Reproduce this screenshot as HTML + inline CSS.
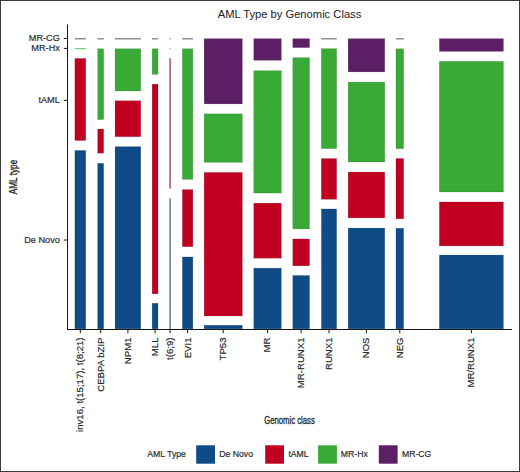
<!DOCTYPE html>
<html><head><meta charset="utf-8"><style>
html,body{margin:0;padding:0;background:#fff;}
svg{display:block;}
text{font-family:"Liberation Sans",sans-serif;}
</style></head><body>
<svg width="520" height="472" viewBox="0 0 520 472">
<rect x="0" y="0" width="520" height="472" fill="#fff"/>
<text x="289.5" y="17.6" text-anchor="middle" font-size="11.2" fill="#222">AML Type by Genomic Class</text>
<rect x="74.70" y="38.18" width="11.20" height="1.25" fill="#7e7a84"/>
<rect x="74.70" y="47.98" width="11.20" height="1.25" fill="#7fcf8a"/>
<rect x="74.85" y="58.45" width="10.90" height="82.05" fill="#c10021" stroke="#000" stroke-opacity="0.22" stroke-width="0.5"/>
<rect x="74.85" y="150.45" width="10.90" height="178.40" fill="#0f4b87" stroke="#000" stroke-opacity="0.22" stroke-width="0.5"/>
<rect x="97.50" y="38.18" width="6.30" height="1.25" fill="#7e7a84"/>
<rect x="97.65" y="48.75" width="6.00" height="70.85" fill="#39aa35" stroke="#000" stroke-opacity="0.22" stroke-width="0.5"/>
<rect x="97.65" y="129.05" width="6.00" height="24.15" fill="#c10021" stroke="#000" stroke-opacity="0.22" stroke-width="0.5"/>
<rect x="97.65" y="163.35" width="6.00" height="165.50" fill="#0f4b87" stroke="#000" stroke-opacity="0.22" stroke-width="0.5"/>
<rect x="114.90" y="38.18" width="26.00" height="1.25" fill="#7e7a84"/>
<rect x="115.05" y="48.75" width="25.70" height="42.25" fill="#39aa35" stroke="#000" stroke-opacity="0.22" stroke-width="0.5"/>
<rect x="115.05" y="100.75" width="25.70" height="35.95" fill="#c10021" stroke="#000" stroke-opacity="0.22" stroke-width="0.5"/>
<rect x="115.05" y="146.65" width="25.70" height="182.20" fill="#0f4b87" stroke="#000" stroke-opacity="0.22" stroke-width="0.5"/>
<rect x="152.00" y="38.18" width="6.20" height="1.25" fill="#7e7a84"/>
<rect x="152.15" y="48.75" width="5.90" height="25.65" fill="#39aa35" stroke="#000" stroke-opacity="0.22" stroke-width="0.5"/>
<rect x="152.15" y="84.15" width="5.90" height="209.65" fill="#c10021" stroke="#000" stroke-opacity="0.22" stroke-width="0.5"/>
<rect x="152.15" y="303.25" width="5.90" height="25.60" fill="#0f4b87" stroke="#000" stroke-opacity="0.22" stroke-width="0.5"/>
<rect x="169.40" y="38.18" width="1.40" height="1.25" fill="#7e7a84"/>
<rect x="169.40" y="47.98" width="1.40" height="1.25" fill="#7fcf8a"/>
<rect x="169.55" y="58.45" width="1.10" height="130.05" fill="#a83a5a" stroke="#000" stroke-opacity="0.22" stroke-width="0.5"/>
<rect x="169.55" y="198.35" width="1.10" height="130.50" fill="#4e6688" stroke="#000" stroke-opacity="0.22" stroke-width="0.5"/>
<rect x="182.20" y="38.18" width="10.80" height="1.25" fill="#7e7a84"/>
<rect x="182.35" y="48.75" width="10.50" height="130.65" fill="#39aa35" stroke="#000" stroke-opacity="0.22" stroke-width="0.5"/>
<rect x="182.35" y="189.55" width="10.50" height="57.15" fill="#c10021" stroke="#000" stroke-opacity="0.22" stroke-width="0.5"/>
<rect x="182.35" y="256.95" width="10.50" height="71.90" fill="#0f4b87" stroke="#000" stroke-opacity="0.22" stroke-width="0.5"/>
<rect x="204.15" y="38.65" width="38.20" height="65.25" fill="#5c1f66" stroke="#000" stroke-opacity="0.22" stroke-width="0.5"/>
<rect x="204.15" y="113.85" width="38.20" height="48.55" fill="#39aa35" stroke="#000" stroke-opacity="0.22" stroke-width="0.5"/>
<rect x="204.15" y="172.45" width="38.20" height="143.55" fill="#c10021" stroke="#000" stroke-opacity="0.22" stroke-width="0.5"/>
<rect x="204.15" y="325.25" width="38.20" height="3.60" fill="#0f4b87" stroke="#000" stroke-opacity="0.22" stroke-width="0.5"/>
<rect x="253.75" y="38.65" width="27.60" height="21.65" fill="#5c1f66" stroke="#000" stroke-opacity="0.22" stroke-width="0.5"/>
<rect x="253.75" y="70.65" width="27.60" height="122.45" fill="#39aa35" stroke="#000" stroke-opacity="0.22" stroke-width="0.5"/>
<rect x="253.75" y="203.15" width="27.60" height="55.05" fill="#c10021" stroke="#000" stroke-opacity="0.22" stroke-width="0.5"/>
<rect x="253.75" y="268.15" width="27.60" height="60.70" fill="#0f4b87" stroke="#000" stroke-opacity="0.22" stroke-width="0.5"/>
<rect x="292.75" y="38.65" width="16.80" height="8.95" fill="#5c1f66" stroke="#000" stroke-opacity="0.22" stroke-width="0.5"/>
<rect x="292.75" y="57.65" width="16.80" height="171.25" fill="#39aa35" stroke="#000" stroke-opacity="0.22" stroke-width="0.5"/>
<rect x="292.75" y="238.95" width="16.80" height="26.85" fill="#c10021" stroke="#000" stroke-opacity="0.22" stroke-width="0.5"/>
<rect x="292.75" y="275.45" width="16.80" height="53.40" fill="#0f4b87" stroke="#000" stroke-opacity="0.22" stroke-width="0.5"/>
<rect x="321.20" y="38.18" width="15.60" height="1.25" fill="#7e7a84"/>
<rect x="321.35" y="48.65" width="15.30" height="99.95" fill="#39aa35" stroke="#000" stroke-opacity="0.22" stroke-width="0.5"/>
<rect x="321.35" y="158.55" width="15.30" height="40.75" fill="#c10021" stroke="#000" stroke-opacity="0.22" stroke-width="0.5"/>
<rect x="321.35" y="208.95" width="15.30" height="119.90" fill="#0f4b87" stroke="#000" stroke-opacity="0.22" stroke-width="0.5"/>
<rect x="348.15" y="38.65" width="36.60" height="33.25" fill="#5c1f66" stroke="#000" stroke-opacity="0.22" stroke-width="0.5"/>
<rect x="348.15" y="82.15" width="36.60" height="79.85" fill="#39aa35" stroke="#000" stroke-opacity="0.22" stroke-width="0.5"/>
<rect x="348.15" y="172.05" width="36.60" height="45.85" fill="#c10021" stroke="#000" stroke-opacity="0.22" stroke-width="0.5"/>
<rect x="348.15" y="228.05" width="36.60" height="100.80" fill="#0f4b87" stroke="#000" stroke-opacity="0.22" stroke-width="0.5"/>
<rect x="395.80" y="38.18" width="8.00" height="1.25" fill="#7e7a84"/>
<rect x="395.95" y="48.75" width="7.70" height="99.95" fill="#39aa35" stroke="#000" stroke-opacity="0.22" stroke-width="0.5"/>
<rect x="395.95" y="158.45" width="7.70" height="60.35" fill="#c10021" stroke="#000" stroke-opacity="0.22" stroke-width="0.5"/>
<rect x="395.95" y="228.25" width="7.70" height="100.60" fill="#0f4b87" stroke="#000" stroke-opacity="0.22" stroke-width="0.5"/>
<rect x="439.35" y="38.65" width="64.10" height="12.75" fill="#5c1f66" stroke="#000" stroke-opacity="0.22" stroke-width="0.5"/>
<rect x="439.35" y="61.35" width="64.10" height="130.65" fill="#39aa35" stroke="#000" stroke-opacity="0.22" stroke-width="0.5"/>
<rect x="439.35" y="201.95" width="64.10" height="43.95" fill="#c10021" stroke="#000" stroke-opacity="0.22" stroke-width="0.5"/>
<rect x="439.35" y="255.05" width="64.10" height="73.80" fill="#0f4b87" stroke="#000" stroke-opacity="0.22" stroke-width="0.5"/>
<g stroke="#141414" stroke-width="1" fill="none">
<line x1="67.5" y1="24.5" x2="67.5" y2="330"/>
<line x1="67" y1="329.5" x2="512" y2="329.5"/>
<line x1="63.8" y1="38.45" x2="67" y2="38.45"/><line x1="63.8" y1="48.4" x2="67" y2="48.4"/><line x1="63.8" y1="100.4" x2="67" y2="100.4"/><line x1="63.8" y1="240.05" x2="67" y2="240.05"/>
<line x1="80.3" y1="329.5" x2="80.3" y2="333.2"/><line x1="100.7" y1="329.5" x2="100.7" y2="333.2"/><line x1="127.9" y1="329.5" x2="127.9" y2="333.2"/><line x1="155.1" y1="329.5" x2="155.1" y2="333.2"/><line x1="170.1" y1="329.5" x2="170.1" y2="333.2"/><line x1="187.6" y1="329.5" x2="187.6" y2="333.2"/><line x1="223.2" y1="329.5" x2="223.2" y2="333.2"/><line x1="267.6" y1="329.5" x2="267.6" y2="333.2"/><line x1="301.1" y1="329.5" x2="301.1" y2="333.2"/><line x1="329.0" y1="329.5" x2="329.0" y2="333.2"/><line x1="366.4" y1="329.5" x2="366.4" y2="333.2"/><line x1="399.8" y1="329.5" x2="399.8" y2="333.2"/><line x1="471.4" y1="329.5" x2="471.4" y2="333.2"/>
</g>
<g font-size="9.2" fill="#2a2a2a" stroke="#2a2a2a" stroke-width="0.18">
<text x="59.9" y="41.30" text-anchor="end">MR-CG</text><text x="59.9" y="51.25" text-anchor="end">MR-Hx</text><text x="59.9" y="103.25" text-anchor="end">tAML</text><text x="59.9" y="242.90" text-anchor="end">De Novo</text>
<text transform="translate(83.2,337.5) rotate(-90)" text-anchor="end" font-size="9.6">inv16, t(15;17), t(8;21)</text><text transform="translate(103.6,337.5) rotate(-90)" text-anchor="end" font-size="9.6">CEBPA bZIP</text><text transform="translate(130.8,337.5) rotate(-90)" text-anchor="end" font-size="9.6">NPM1</text><text transform="translate(158.0,337.5) rotate(-90)" text-anchor="end" font-size="9.6">MLL</text><text transform="translate(173.0,337.5) rotate(-90)" text-anchor="end" font-size="9.6">t(6;9)</text><text transform="translate(190.5,337.5) rotate(-90)" text-anchor="end" font-size="9.6">EVI1</text><text transform="translate(226.2,337.5) rotate(-90)" text-anchor="end" font-size="9.6">TP53</text><text transform="translate(270.4,337.5) rotate(-90)" text-anchor="end" font-size="9.6">MR</text><text transform="translate(304.0,337.5) rotate(-90)" text-anchor="end" font-size="9.6">MR-RUNX1</text><text transform="translate(331.9,337.5) rotate(-90)" text-anchor="end" font-size="9.6">RUNX1</text><text transform="translate(369.3,337.5) rotate(-90)" text-anchor="end" font-size="9.6">NOS</text><text transform="translate(402.7,337.5) rotate(-90)" text-anchor="end" font-size="9.6">NEG</text><text transform="translate(474.3,337.5) rotate(-90)" text-anchor="end" font-size="9.6">MR/RUNX1</text>
</g>
<text transform="translate(289.5,424) scale(0.69,1)" text-anchor="middle" font-size="11.2" fill="#2a2a2a" stroke="#2a2a2a" stroke-width="0.35">Genomic class</text>
<text transform="translate(17.3,177.0) rotate(-90) scale(0.715,1)" text-anchor="middle" font-size="11.5" fill="#2a2a2a" stroke="#2a2a2a" stroke-width="0.35" text-rendering="geometricPrecision">AML type</text>
<g font-size="8.7" fill="#2a2a2a" stroke="#2a2a2a" stroke-width="0.18">
<text x="147.3" y="457.2">AML Type</text>
<rect x="196.2" y="445.3" width="18.8" height="18.4" fill="#0f4b87" stroke="none"/><text x="219.2" y="457.2">De Novo</text><rect x="265.2" y="445.3" width="18.8" height="18.4" fill="#c10021" stroke="none"/><text x="288.4" y="457.2">tAML</text><rect x="318.1" y="445.3" width="18.8" height="18.4" fill="#39aa35" stroke="none"/><text x="340.8" y="457.2">MR-Hx</text><rect x="378.8" y="445.3" width="18.8" height="18.4" fill="#5c1f66" stroke="none"/><text x="401.9" y="457.2">MR-CG</text>
</g>
<rect x="0.5" y="0.5" width="519" height="471" fill="none" stroke="#3a3a3a" stroke-width="1"/>
</svg>
</body></html>
